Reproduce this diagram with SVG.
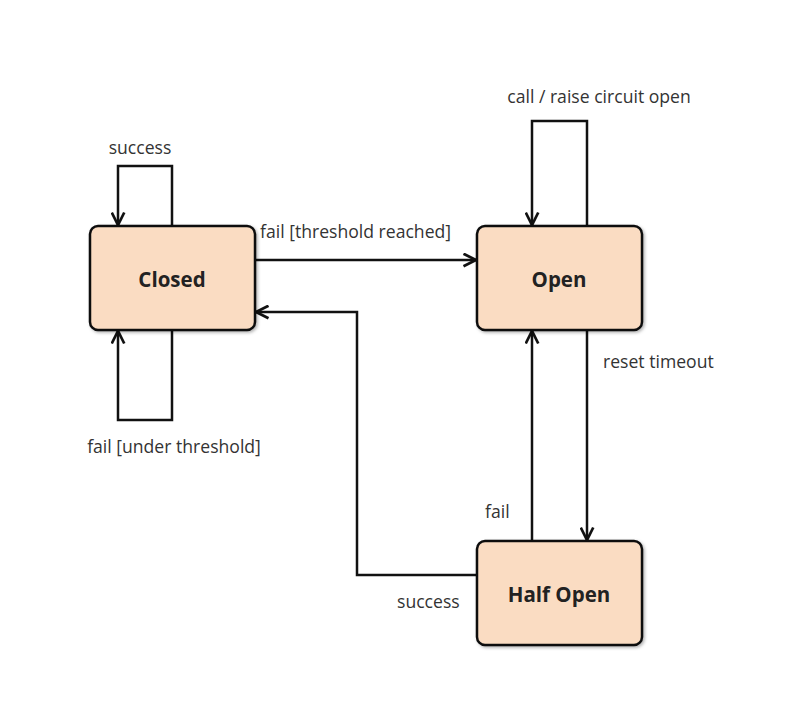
<svg xmlns="http://www.w3.org/2000/svg" width="806" height="711" viewBox="0 0 806 711">
<defs>
<style>
.node{fill:#fadcc2;stroke:#111;stroke-width:2.5}
.nl{font-family:"Open Sans","Noto Sans",sans-serif;font-weight:bold;font-size:20.5px;fill:#222;text-anchor:middle}
.el{font-family:"Open Sans","Noto Sans",sans-serif;font-size:17.6px;fill:#333}
.c{fill:none;stroke:#111;stroke-width:2.5;marker-end:url(#ah)}
</style>
<marker id="ah" viewBox="0 0 12 12" refX="11" refY="6" markerWidth="6" markerHeight="6" markerUnits="strokeWidth" orient="auto">
<path d="M1,1 L11,6 L1,11" fill="none" stroke="#111" stroke-width="2.2"/>
</marker>
<filter id="sh" x="-10%" y="-10%" width="130%" height="130%"><feDropShadow dx="1.5" dy="1.5" stdDeviation="1.5" flood-opacity="0.3"/></filter>
</defs>
<rect width="806" height="711" fill="#fff"/>
<g id="connectors">
<path class="c" d="M172,226 V166 H118 V225"/>
<path class="c" d="M172,330 V420 H118 V331"/>
<path class="c" d="M587,226 V121 H532 V225"/>
<path class="c" d="M255,260 H476"/>
<path class="c" d="M477,575 H357 V312 H256"/>
<path class="c" d="M532,541 V331"/>
<path class="c" d="M587,330 V540"/>
<text class="el" x="140" y="154" text-anchor="middle">success</text>
<text class="el" x="174" y="453" text-anchor="middle">fail [under threshold]</text>
<text class="el" x="599" y="103" text-anchor="middle">call / raise circuit open</text>
<text class="el" x="260" y="238">fail [threshold reached]</text>
<text class="el" x="603" y="368">reset timeout</text>
<text class="el" x="485" y="518">fail</text>
<text class="el" x="397" y="608">success</text>
</g>
<g id="closed">
<rect class="node" x="90" y="226" width="165" height="104" rx="8" filter="url(#sh)"/>
<text class="nl" x="172" y="287">Closed</text>
</g>
<g id="open">
<rect class="node" x="477" y="226" width="165" height="104" rx="8" filter="url(#sh)"/>
<text class="nl" x="559" y="287">Open</text>
</g>
<g id="halfopen">
<rect class="node" x="477" y="541" width="165" height="104" rx="8" filter="url(#sh)"/>
<text class="nl" x="559" y="602">Half Open</text>
</g>
</svg>
